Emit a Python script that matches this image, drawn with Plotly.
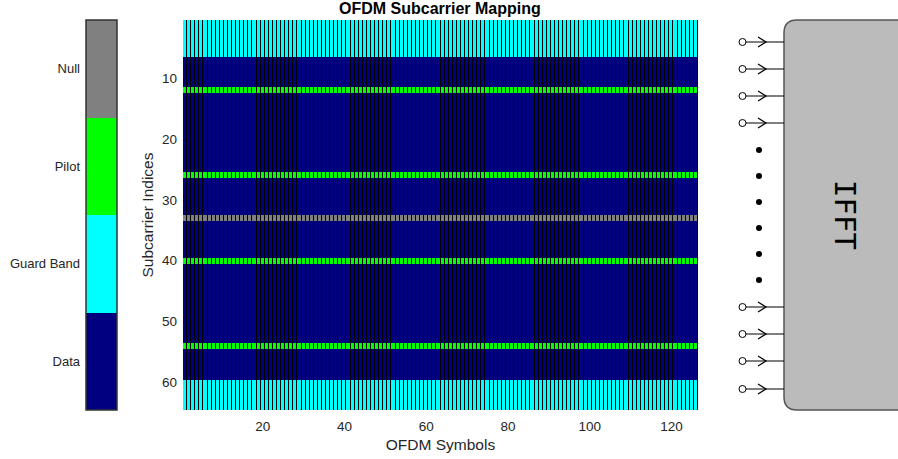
import numpy as np
import plotly.graph_objects as go

# ---------------- data ----------------
n_subcarriers = 64
n_symbols = 126
guard_top = [1, 2, 3, 4, 5, 6]
guard_bottom = [60, 61, 62, 63, 64]
pilot_idx = [12, 26, 40, 54]
null_idx = [33]
categories = ["Data", "Guard Band", "Pilot", "Null"]
cat_codes = [0, 1, 2, 3]
cat_colors = ["#000080", "#00FFFF", "#00FF00", "#808080"]
x_ticks = [20, 40, 60, 80, 100, 120]
y_ticks = [10, 20, 30, 40, 50, 60]

# IFFT diagram (pixel layout of the schematic)
port_rows = [42, 69, 96, 123, 307, 334, 361, 389]
ellipsis_rows = [150, 176, 202, 228, 254, 280]

sub = np.arange(1, n_subcarriers + 1)
sym = np.arange(1, n_symbols + 1)
code_per_sub = np.zeros(n_subcarriers, dtype=int)
for s in guard_top + guard_bottom:
    code_per_sub[s - 1] = 1
for s in pilot_idx:
    code_per_sub[s - 1] = 2
for s in null_idx:
    code_per_sub[s - 1] = 3
Z = np.repeat(code_per_sub[:, None], n_symbols, axis=1)

# discrete colorscale
cs = []
for i, c in enumerate(cat_colors):
    cs.append([i / 4, c])
    cs.append([(i + 1) / 4, c])

W, H = 898, 459
def px(x):
    return x / W
def py(y):
    return 1 - y / H

font_fam = "Arial, Liberation Sans, Helvetica, sans-serif"
tick_col = "#262626"

fig = go.Figure()

# main map
fig.add_trace(go.Heatmap(
    z=Z, x=sym, y=sub, zmin=-0.5, zmax=3.5, colorscale=cs, showscale=False,
    xgap=1, hoverinfo="skip", xaxis="x", yaxis="y"))

# legend bar
fig.add_trace(go.Heatmap(
    z=[[c] for c in cat_codes], x=[0], y=categories, zmin=-0.5, zmax=3.5,
    colorscale=cs, showscale=False, hoverinfo="skip", xaxis="x2", yaxis="y2"))

# --- IFFT schematic on pixel-space axes ---
circ_x, line_x0, line_x1 = 742.5, 745.5, 784
chev_tip, chev_back, chev_h = 766, 758, 5
lx, ly = [], []
for r in port_rows:
    lx += [line_x0, line_x1, None, chev_back, chev_tip, chev_back, None]
    ly += [r, r, None, r - chev_h, r, r + chev_h, None]
fig.add_trace(go.Scatter(x=lx, y=ly, mode="lines", line=dict(color="black", width=1.2),
                         hoverinfo="skip", xaxis="x3", yaxis="y3", showlegend=False))
fig.add_trace(go.Scatter(x=[circ_x] * len(port_rows), y=port_rows, mode="markers",
                         marker=dict(symbol="circle", size=7, color="white",
                                     line=dict(color="black", width=1)),
                         hoverinfo="skip", xaxis="x3", yaxis="y3", showlegend=False))
fig.add_trace(go.Scatter(x=[759] * len(ellipsis_rows), y=ellipsis_rows, mode="markers",
                         marker=dict(symbol="circle", size=6, color="black"),
                         hoverinfo="skip", xaxis="x3", yaxis="y3", showlegend=False))

# rounded rectangle (box extends off the right edge)
x0, x1, y0, y1, rr = 784, 940, 20, 410, 13
path = (f"M {x0+rr},{y0} L {x1-rr},{y0} Q {x1},{y0} {x1},{y0+rr} L {x1},{y1-rr} "
        f"Q {x1},{y1} {x1-rr},{y1} L {x0+rr},{y1} Q {x0},{y1} {x0},{y1-rr} "
        f"L {x0},{y0+rr} Q {x0},{y0} {x0+rr},{y0} Z")
shapes = [
    dict(type="path", path=path, xref="x3", yref="y3",
         fillcolor="#BBBBBB", line=dict(color="#555555", width=1.5), layer="below"),
    dict(type="rect", xref="x domain", yref="y domain", x0=0, x1=1, y0=0, y1=1,
         fillcolor="black", line=dict(width=0), layer="below"),
    dict(type="rect", xref="x2 domain", yref="y2 domain", x0=0, x1=1, y0=0, y1=1,
         fillcolor="rgba(0,0,0,0)", line=dict(color="#333333", width=1.5), layer="above"),
]

annotations = [
    dict(text="IFFT", x=845, y=215, xref="x3", yref="y3", showarrow=False, textangle=90,
         font=dict(family="DejaVu Sans Mono, Liberation Mono, monospace", size=29, color="black")),
    dict(text="<b>OFDM Subcarrier Mapping</b>", x=px(440), y=py(8), xref="paper", yref="paper",
         showarrow=False, font=dict(family=font_fam, size=16, color="black"),
         xanchor="center", yanchor="middle"),
]

fig.update_layout(
    width=W, height=H, margin=dict(l=0, r=0, t=0, b=0),
    paper_bgcolor="white", plot_bgcolor="rgba(0,0,0,0)",
    font=dict(family=font_fam, color=tick_col),
    shapes=shapes, annotations=annotations, showlegend=False,
    xaxis=dict(domain=[px(183), px(698)], range=[0.5, n_symbols + 0.5],
               tickvals=x_ticks, ticks="", showgrid=False, zeroline=False,
               tickfont=dict(size=13.5, color=tick_col), ticklabelstandoff=6,
               title=dict(text="OFDM Symbols", font=dict(size=15.5, color=tick_col), standoff=6)),
    yaxis=dict(domain=[py(410), py(20)], range=[n_subcarriers + 0.5, 0.5],
               tickvals=y_ticks, ticks="", showgrid=False, zeroline=False,
               tickfont=dict(size=13.5, color=tick_col), ticklabelstandoff=5,
               title=dict(text="Subcarrier Indices", font=dict(size=15.5, color=tick_col), standoff=4)),
    xaxis2=dict(domain=[px(86), px(117)], range=[-0.5, 0.5], visible=False, anchor="y2"),
    yaxis2=dict(domain=[py(410), py(20)], anchor="x2", ticks="", showgrid=False,
                tickfont=dict(size=13, color=tick_col), ticklabelstandoff=5,
                showline=False),
    xaxis3=dict(domain=[0, 1], range=[0, W], visible=False, anchor="y3", fixedrange=True),
    yaxis3=dict(domain=[0, 1], range=[H, 0], visible=False, anchor="x3", fixedrange=True),
)

fig.write_html("out.html")
